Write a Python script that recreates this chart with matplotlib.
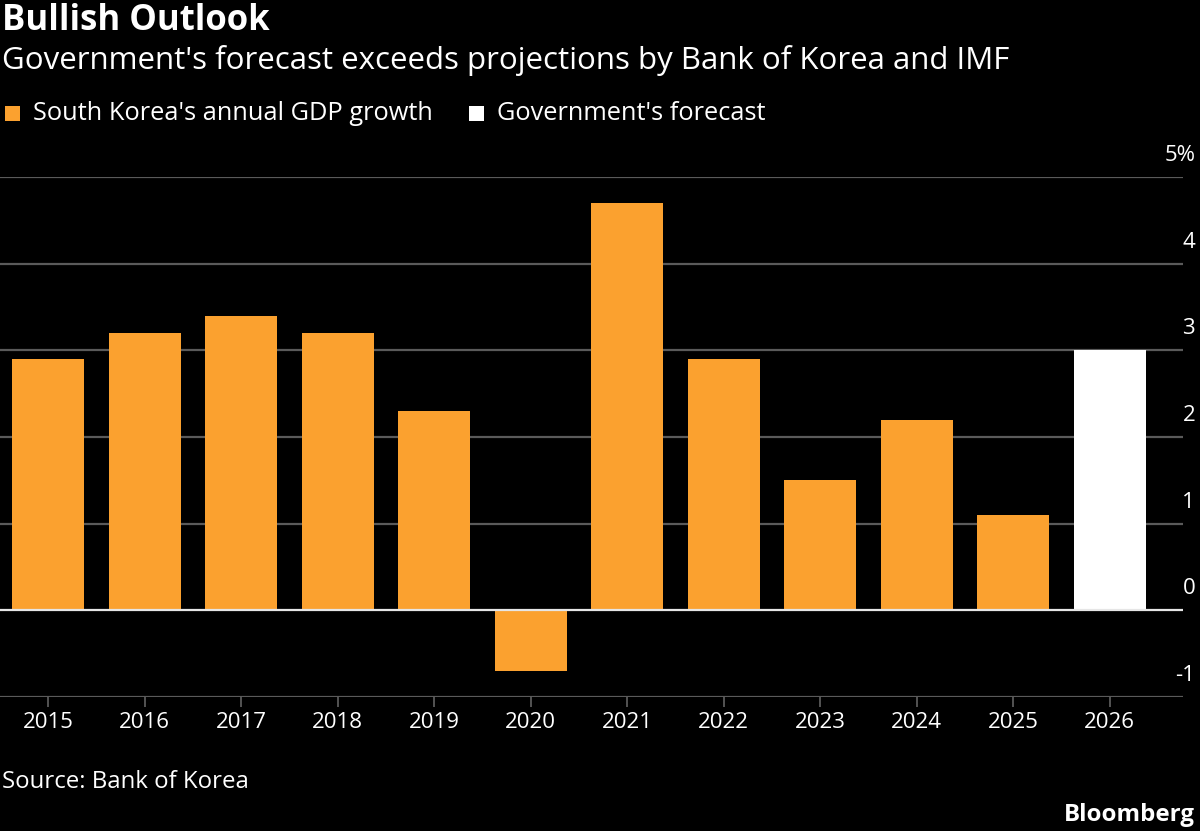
import matplotlib
matplotlib.use("Agg")
import matplotlib.pyplot as plt
import matplotlib.transforms as mtransforms
from matplotlib.patches import Rectangle

years = ["2015", "2016", "2017", "2018", "2019", "2020", "2021", "2022", "2023", "2024", "2025", "2026"]
gdp_growth = [2.9, 3.2, 3.4, 3.2, 2.3, -0.7, 4.7, 2.9, 1.5, 2.2, 1.1, None]
forecast = [None] * 11 + [3.0]
yticks = [-1, 0, 1, 2, 3, 4, 5]
ytick_labels = ["-1", "0", "1", "2", "3", "4", "5%"]

ORANGE = "#FBA12F"
WHITE = "#FFFFFF"
GRID = "#5a5a5a"
plt.rcParams['font.family'] = ['Open Sans', 'DejaVu Sans']

fig = plt.figure(figsize=(12, 8.31), dpi=100, facecolor="black")
ax = fig.add_axes([0.0, 0.1613, 0.986, 0.6257], facecolor="black")

x = list(range(len(years)))
hx = [i for i, v in zip(x, gdp_growth) if v is not None]
hv = [v for v in gdp_growth if v is not None]
fx = [i for i, v in zip(x, forecast) if v is not None]
fv = [v for v in forecast if v is not None]
ax.bar(hx, hv, width=0.746, color=ORANGE, zorder=3)
ax.bar(fx, fv, width=0.746, color=WHITE, zorder=3)

ax.set_xlim(-0.5, 11.76)
ax.set_ylim(-1, 5)
for s in ax.spines.values():
    s.set_visible(False)

for t in yticks:
    if t == 0:
        ax.axhline(t, color="#e6e6e6", lw=1.6, zorder=4)
    else:
        ax.axhline(t, color=GRID, lw=1.6, zorder=1)

ax.set_xticks(x)
ax.set_xticklabels(years, fontsize=16, color="white")
ax.tick_params(axis="x", length=7, width=1.3, color=GRID, pad=4)

ax.yaxis.tick_right()
ax.set_yticks(yticks)
ax.set_yticklabels(ytick_labels, fontsize=16, color="white")
ax.tick_params(axis="y", length=0, pad=8.6)
offset = mtransforms.ScaledTranslation(0, 11 / 100, fig.dpi_scale_trans)
for lbl in ax.get_yticklabels():
    lbl.set_ha("right")
    lbl.set_va("bottom")
    lbl.set_transform(lbl.get_transform() + offset)

fig.text(0.002, 1 - 21 / 831, "Bullish Outlook", fontsize=25, fontweight="bold", color="white", va="center", ha="left")
fig.text(0.002, 1 - 61 / 831, "Government's forecast exceeds projections by Bank of Korea and IMF",
         fontsize=22.5, color="white", va="center", ha="left")

# legend
for sx, col, label in [(5, ORANGE, "South Korea's annual GDP growth"), (469, WHITE, "Government's forecast")]:
    fig.patches.append(Rectangle((sx / 1200, 1 - 121 / 831), 15 / 1200, 15 / 831,
                                 transform=fig.transFigure, facecolor=col, edgecolor="none"))
    fig.text((sx + 28) / 1200, 1 - 114 / 831, label, fontsize=18.3, color="white", va="center", ha="left")

fig.text(0.002, 1 - 782 / 831, "Source: Bank of Korea", fontsize=17.3, color="white", va="center", ha="left")
fig.text(0.996, 1 - 815 / 831, "Bloomberg", fontsize=17.3, fontweight="bold", color="white", va="center", ha="right")

fig.savefig("out.png", dpi=100, facecolor="black")
